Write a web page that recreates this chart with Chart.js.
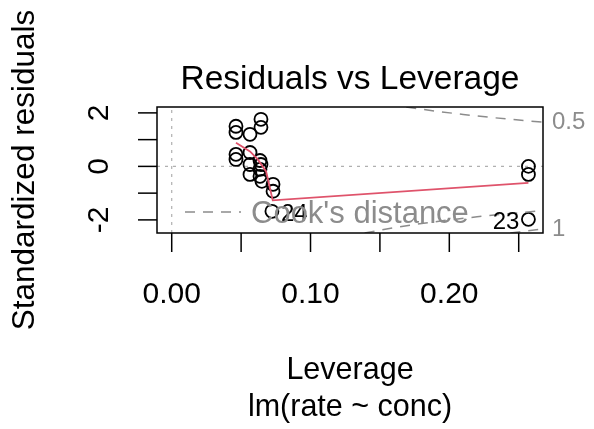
<!DOCTYPE html>
<html>
<head>
<meta charset="utf-8">
<script src="https://cdn.jsdelivr.net/npm/chart.js@4.4.0/dist/chart.umd.min.js"></script>
<style>
  html, body { margin: 0; padding: 0; background: #fff; }
  #wrap { width: 594px; height: 429px; }
</style>
</head>
<body>
<div id="wrap"><canvas id="chart" width="594" height="429"></canvas></div>
<script>
// Residuals vs Leverage, lm(rate ~ conc)

const leverage = [0.0463, 0.0463, 0.0564, 0.0643, 0.0643, 0.0463, 0.0463, 0.0564, 0.0564, 0.0564,
                  0.0636, 0.0643, 0.0636, 0.0636, 0.0650, 0.0730, 0.0730, 0.0722, 0.2570, 0.2570, 0.2570];
const stdResid = [1.50, 1.27, 1.20, 1.76, 1.46, 0.45, 0.26, 0.52, 0.07, -0.30,
                  0.22, 0.07, -0.11, -0.37, -0.56, -0.67, -0.93, -1.68, 0.00, -0.30, -1.98];
const pointIds = ['', '', '', '', '', '', '', '', '', '', '', '', '', '', '', '', '', '24', '', '', '23'];

// red lowess smoother
const smoothX = [0.0463, 0.0564, 0.0620, 0.0680, 0.0728, 0.2570];
const smoothY = [0.88, 0.56, 0.26, -0.19, -1.27, -0.62];

// Cook's distance contours (0.5 and 1)
const cookHalfUpX = [0.169, 0.19, 0.21, 0.23, 0.25, 0.2675];
const cookHalfUpY = [2.217, 2.065, 1.940, 1.830, 1.732, 1.655];
const cookHalfLowX = [0.139, 0.16, 0.18, 0.20, 0.22, 0.24, 0.2675];
const cookHalfLowY = [-2.489, -2.291, -2.134, -2.000, -1.883, -1.780, -1.655];
const cookOneLowX = [0.244, 0.255, 0.2675];
const cookOneLowY = [-2.489, -2.417, -2.340];

const xTicks = [0, 0.05, 0.10, 0.15, 0.20, 0.25];
const xTickLabels = ['0.00', '', '0.10', '', '0.20', ''];
const yTicks = [-2, -1, 0, 1, 2];
const yTickLabels = ['-2', '', '0', '', '2'];

const xMin = -0.0106, xMax = 0.2675;
const yMin = -2.49, yMax = 2.22;

const FONT = '"Liberation Sans", Arial, Helvetica, sans-serif';
const GREY = '#8c8c8c';

const pairs = (xs, ys) => xs.map((x, i) => ({ x: x, y: ys[i] }));

const rPlotPlugin = {
    id: 'rPlot',
    afterDatasetsDraw(chart) {
        const ctx = chart.ctx;
        const area = chart.chartArea;
        const xs = chart.scales.x;
        const ys = chart.scales.y;
        ctx.save();

        // point id labels
        ctx.fillStyle = '#000';
        ctx.font = '24px ' + FONT;
        ctx.textBaseline = 'middle';
        pointIds.forEach((id, i) => {
            if (!id) return;
            const px = xs.getPixelForValue(leverage[i]);
            const py = ys.getPixelForValue(stdResid[i]);
            const right = leverage[i] > (xMin + xMax) / 2;
            ctx.textAlign = right ? 'right' : 'left';
            ctx.fillText(id, right ? px - 9 : px + 9, py + 3);
        });

        // legend
        const ly = 212;
        ctx.strokeStyle = GREY;
        ctx.lineWidth = 1.5;
        ctx.setLineDash([10, 8]);
        ctx.beginPath();
        ctx.moveTo(185, ly);
        ctx.lineTo(241, ly);
        ctx.stroke();
        ctx.setLineDash([]);
        ctx.fillStyle = GREY;
        ctx.font = '31px ' + FONT;
        ctx.textAlign = 'left';
        ctx.fillText("Cook's distance", 251, ly + 2);

        // contour labels
        ctx.font = '24px ' + FONT;
        ctx.fillText('0.5', area.right + 9, ys.getPixelForValue(cookHalfUpY[cookHalfUpY.length - 1]));
        ctx.fillText('1', area.right + 9, ys.getPixelForValue(cookOneLowY[cookOneLowY.length - 1]));

        // frame
        ctx.strokeStyle = '#000';
        ctx.lineWidth = 1.5;
        ctx.strokeRect(area.left, area.top, area.right - area.left, area.bottom - area.top);

        // x axis
        ctx.fillStyle = '#000';
        ctx.font = '30px ' + FONT;
        ctx.textAlign = 'center';
        xTicks.forEach((t, i) => {
            const px = xs.getPixelForValue(t);
            ctx.beginPath();
            ctx.moveTo(px, area.bottom);
            ctx.lineTo(px, area.bottom + 19);
            ctx.stroke();
            if (xTickLabels[i]) ctx.fillText(xTickLabels[i], px, 295);
        });

        // y axis
        yTicks.forEach((t, i) => {
            const py = ys.getPixelForValue(t);
            ctx.beginPath();
            ctx.moveTo(area.left, py);
            ctx.lineTo(area.left - 19, py);
            ctx.stroke();
            if (yTickLabels[i]) {
                ctx.save();
                ctx.translate(100, py);
                ctx.rotate(-Math.PI / 2);
                ctx.fillText(yTickLabels[i], 0, 0);
                ctx.restore();
            }
        });

        // titles
        const cx = (area.left + area.right) / 2;
        ctx.font = '33.5px ' + FONT;
        ctx.fillText('Residuals vs Leverage', cx, 80);
        ctx.font = '30.5px ' + FONT;
        ctx.fillText('Leverage', cx, 371);
        ctx.fillText('lm(rate ~ conc)', cx, 408);
        ctx.font = '31.5px ' + FONT;
        ctx.save();
        ctx.translate(25, (area.top + area.bottom) / 2);
        ctx.rotate(-Math.PI / 2);
        ctx.fillText('Standardized residuals', 0, 0);
        ctx.restore();

        ctx.restore();
    }
};

const dashed = (data) => ({
    data: data,
    showLine: true,
    borderColor: GREY,
    borderWidth: 1.5,
    borderDash: [10, 8],
    pointRadius: 0,
    fill: false
});

new Chart(document.getElementById('chart').getContext('2d'), {
    type: 'scatter',
    data: {
        datasets: [
            {
                data: pairs(leverage, stdResid),
                showLine: false,
                pointRadius: 6.5,
                pointBorderWidth: 1.8,
                pointBorderColor: '#000',
                pointBackgroundColor: 'rgba(0,0,0,0)',
                order: 2
            },
            {
                data: pairs(smoothX, smoothY),
                showLine: true,
                borderColor: '#DF536B',
                borderWidth: 1.8,
                pointRadius: 0,
                fill: false,
                order: 1
            },
            Object.assign(dashed(pairs(cookHalfUpX, cookHalfUpY)), { order: 0 }),
            Object.assign(dashed(pairs(cookHalfLowX, cookHalfLowY)), { order: 0 }),
            Object.assign(dashed(pairs(cookOneLowX, cookOneLowY)), { order: 0 }),
            {
                // reference lines at 0
                data: [{ x: xMin, y: 0 }, { x: xMax, y: 0 }],
                showLine: true,
                borderColor: '#b0b0b0',
                borderWidth: 1.2,
                borderDash: [3, 5],
                pointRadius: 0,
                order: 3
            },
            {
                data: [{ x: 0, y: yMin }, { x: 0, y: yMax }],
                showLine: true,
                borderColor: '#b0b0b0',
                borderWidth: 1.2,
                borderDash: [3, 5],
                pointRadius: 0,
                order: 3
            }
        ]
    },
    options: {
        responsive: false,
        animation: false,
        devicePixelRatio: 1,
        layout: { padding: { left: 157, right: 51, top: 107, bottom: 196 } },
        plugins: {
            legend: { display: false },
            tooltip: { enabled: false }
        },
        scales: {
            x: { type: 'linear', min: xMin, max: xMax, display: false },
            y: { type: 'linear', min: yMin, max: yMax, display: false }
        }
    },
    plugins: [rPlotPlugin]
});
</script>
</body>
</html>
